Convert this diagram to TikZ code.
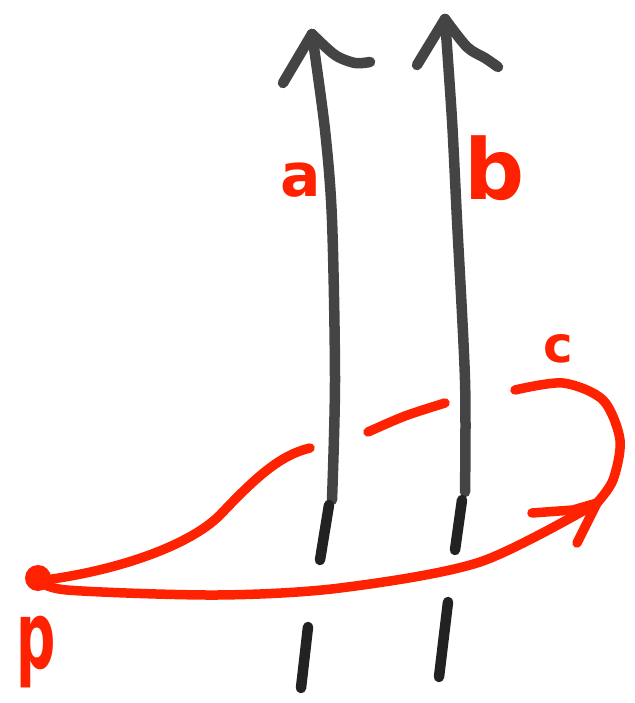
\documentclass[tikz,border=0pt]{standalone}
\usepackage{fontspec}
\setsansfont{DejaVu Sans}
\definecolor{penred}{RGB}{255,34,0}
\definecolor{pengray}{RGB}{68,68,68}
\definecolor{pendark}{RGB}{34,34,34}
\tikzset{
  grayline/.style={draw=pengray,line width=10.5pt,line cap=round,line join=round},
  darkline/.style={draw=pendark,line width=10.5pt,line cap=round,line join=round},
  redline/.style={draw=penred,line width=9.5pt,line cap=round,line join=round},
  lbl/.style={text=penred,inner sep=0pt,anchor=base}
}
\begin{document}
\begin{tikzpicture}[x=1pt,y=-1pt]
\useasboundingbox (0,0) rectangle (634,703);
% vector a
\draw[grayline] plot[smooth] coordinates {(312,34) (325,130) (332,220) (335,380) (332,500)};
\draw[grayline] (283,83) -- (312,34);
\draw[grayline] plot[smooth] coordinates {(312,34) (335,55) (355,63) (370,62)};
\draw[darkline] (329,505) -- (320,560);
\draw[darkline] (308,627) -- (301,688);
% vector b
\draw[grayline] plot[smooth] coordinates {(445,19) (452,120) (457,220) (465,380) (465,492)};
\draw[grayline] (417,65) -- (445,19);
\draw[grayline] plot[smooth] coordinates {(445,19) (467,47) (485,58) (498,67)};
\draw[darkline] (462,500) -- (455,550);
\draw[darkline] (448,602) -- (439,677);
% red curves
\coordinate (P) at (38,578);
\coordinate (T) at (597,503);
\fill[penred] (P) circle (13);
\draw[redline] plot[smooth] coordinates {(40,580) (67,590) (217,595) (340,588) (480,562) (597,503)};
\draw[redline] (45,580) .. controls (120,570) and (190,545) .. (220,515) .. controls (255,478) and (280,455) .. (310,448);
\draw[redline] plot[smooth] coordinates {(368,432) (405,416) (445,403)};
\draw[redline] plot[smooth] coordinates {(515,390) (563,383) (603,400) (620,440) (613,480) (597,503)};
\draw[redline] (532,513) -- (573,510) -- (T) -- (577,543);
% labels
\node[lbl,font=\sffamily\bfseries\fontsize{60}{60}\selectfont] (la) at (301,197) {a};
\node[lbl,font=\sffamily\bfseries\fontsize{84}{84}\selectfont] (lb) at (495,200) {b};
\node[lbl,font=\sffamily\bfseries\fontsize{50}{50}\selectfont] (lc) at (558,362) {c};
\node[lbl,font=\sffamily\bfseries\fontsize{55}{55}\selectfont,yscale=1.7] (lp) at (36,668) {p};
\end{tikzpicture}
\end{document}
